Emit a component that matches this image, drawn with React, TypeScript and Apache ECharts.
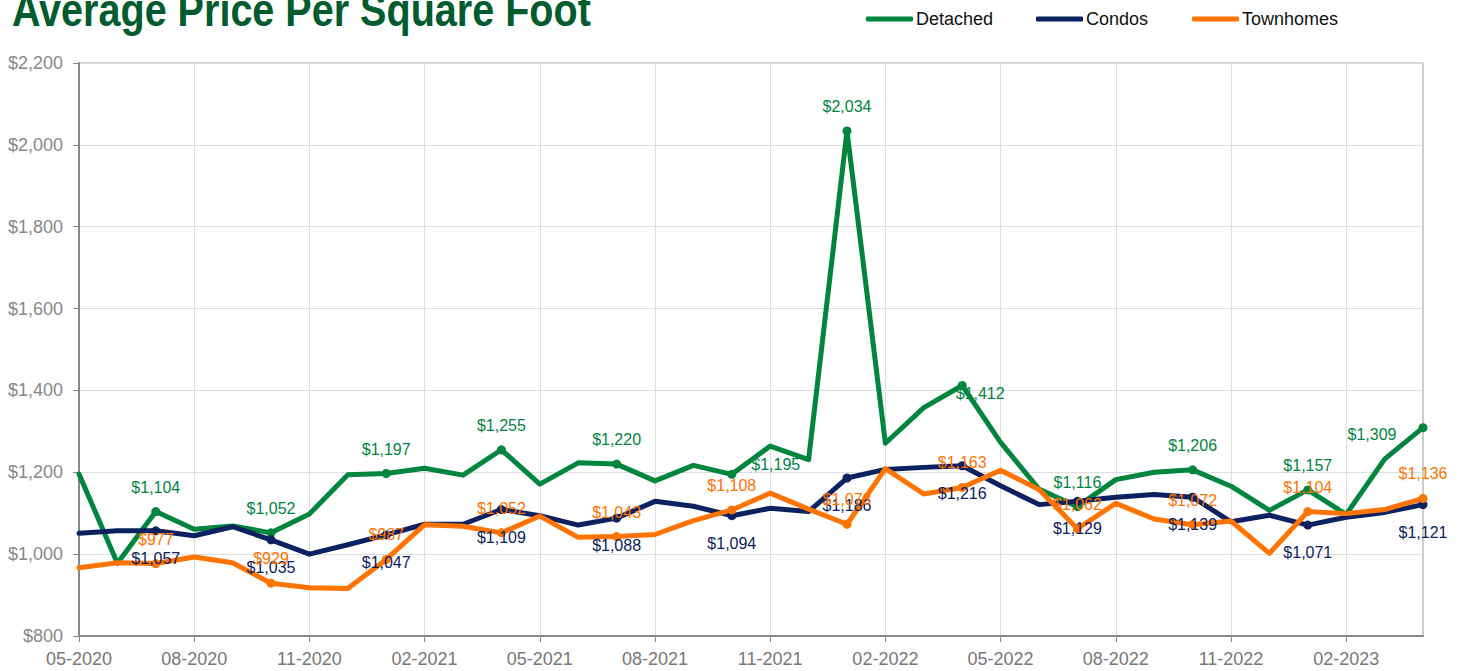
import React, { useEffect, useRef } from "react";
import * as echarts from "echarts";

const months = [
  "05-2020", "06-2020", "07-2020", "08-2020", "09-2020", "10-2020",
  "11-2020", "12-2020", "01-2021", "02-2021", "03-2021", "04-2021",
  "05-2021", "06-2021", "07-2021", "08-2021", "09-2021", "10-2021",
  "11-2021", "12-2021", "01-2022", "02-2022", "03-2022", "04-2022",
  "05-2022", "06-2022", "07-2022", "08-2022", "09-2022", "10-2022",
  "11-2022", "12-2022", "01-2023", "02-2023", "03-2023", "04-2023",
];

const detached = [
  1196, 978, 1104, 1061, 1069, 1052, 1098, 1194, 1197, 1210, 1193, 1255,
  1171, 1223, 1220, 1179, 1217, 1195, 1264, 1231, 2034, 1271, 1358, 1412,
  1273, 1159, 1116, 1182, 1200, 1206, 1166, 1107, 1157, 1097, 1232, 1309,
];

const condos = [
  1051, 1057, 1057, 1045, 1067, 1035, 1000, 1023, 1047, 1073, 1073, 1109,
  1094, 1071, 1088, 1129, 1117, 1094, 1112, 1104, 1186, 1207, 1212, 1216,
  1167, 1121, 1129, 1139, 1146, 1139, 1079, 1095, 1071, 1090, 1102, 1121,
];

const townhomes = [
  967, 979, 977, 993, 979, 929, 918, 916, 987, 1072, 1068, 1052,
  1093, 1041, 1043, 1048, 1082, 1108, 1149, 1110, 1073, 1209, 1147, 1163,
  1205, 1158, 1062, 1124, 1086, 1072, 1081, 1002, 1104, 1099, 1109, 1136,
];

const seriesNames = ["Detached", "Condos", "Townhomes"];
const colors = ["#00853F", "#0B2160", "#FF7300"];
const titleText = "Average Price Per Square Foot";

const fmt = (v: number) => "$" + v.toLocaleString("en-US");

function buildData(values: number[], color: string, pos: string, dist: number, overrides: Record<number, any>) {
  return values.map((v, i) => {
    if (i % 3 !== 2) return { value: v, symbol: "none" };
    return {
      value: v,
      symbol: "circle",
      symbolSize: 9,
      label: {
        show: true,
        position: pos,
        distance: dist,
        color,
        fontSize: 16,
        fontFamily: "Liberation Sans, Arial, sans-serif",
        formatter: () => fmt(v),
        ...(overrides[i] || {}),
      },
    };
  });
}

export default function App() {
  const ref = useRef<HTMLDivElement>(null);
  useEffect(() => {
    if (!ref.current) return;
    const chart = echarts.init(ref.current, undefined, { renderer: "svg" });
    const legendBase = {
      top: 5,
      icon: "roundRect",
      itemWidth: 47,
      itemHeight: 5,
      itemGap: 0,
      textStyle: { fontSize: 18, color: "#111", fontFamily: "Liberation Sans, Arial, sans-serif", padding: [0, 0, 0, -2] },
    };
    chart.setOption({
      animation: false,
      backgroundColor: "#fff",
      graphic: [
        {
          type: "text",
          x: 12,
          y: 10,
          scaleX: 0.86,
          style: {
            text: titleText,
            x: 0,
            y: 0,
            fontSize: 46,
            fontWeight: "bold",
            fontFamily: "Liberation Sans, Arial, sans-serif",
            fill: "#005C2E",
            verticalAlign: "middle",
            align: "left",
          },
        },
      ],
      legend: [
        { ...legendBase, left: 861, data: [seriesNames[0]] },
        { ...legendBase, left: 1031, data: [seriesNames[1]] },
        { ...legendBase, left: 1187, data: [seriesNames[2]] },
      ],
      grid: {
        left: 79,
        right: 43,
        top: 63,
        bottom: 35,
        show: true,
        borderColor: "#999",
        borderWidth: 1,
        backgroundColor: "transparent",
      },
      xAxis: {
        type: "category",
        data: months,
        boundaryGap: false,
        axisLine: { lineStyle: { color: "#888", width: 2 } },
        axisTick: { show: true, interval: 2, length: 6, lineStyle: { color: "#888" } },
        axisLabel: {
          interval: 2,
          margin: 14,
          fontSize: 18,
          color: "#777",
          fontFamily: "Liberation Sans, Arial, sans-serif",
        },
        splitLine: { show: true, interval: 2, lineStyle: { color: "#ddd", width: 1 } },
      },
      yAxis: {
        type: "value",
        min: 800,
        max: 2200,
        interval: 200,
        axisLine: { show: true, lineStyle: { color: "#888", width: 2 } },
        axisTick: { show: true, length: 6, lineStyle: { color: "#888" } },
        axisLabel: {
          margin: 16,
          fontSize: 18,
          color: "#888",
          fontFamily: "Liberation Sans, Arial, sans-serif",
          formatter: (v: number) => fmt(v),
        },
        splitLine: { show: true, lineStyle: { color: "#ddd", width: 1 } },
      },
      series: [
        {
          name: seriesNames[0],
          type: "line",
          color: colors[0],
          lineStyle: { width: 5, cap: "round", join: "round" },
          itemStyle: { color: colors[0] },
          data: buildData(detached, colors[0], "top", 12, {
            17: { position: "right", distance: 5, offset: [10, -10] },
            23: { position: "right", distance: 5, offset: [-16, 8] },
            35: { position: "left", distance: 5, offset: [-17, 7] },
          }),
        },
        {
          name: seriesNames[1],
          type: "line",
          color: colors[1],
          lineStyle: { width: 5, cap: "round", join: "round" },
          itemStyle: { color: colors[1] },
          data: buildData(condos, colors[1], "bottom", 15, {}),
        },
        {
          name: seriesNames[2],
          type: "line",
          color: colors[2],
          lineStyle: { width: 5, cap: "round", join: "round" },
          itemStyle: { color: colors[2] },
          data: buildData(townhomes, colors[2], "top", 12, {}),
        },
      ],
    });
    return () => chart.dispose();
  }, []);
  return (
    <div
      ref={ref}
      style={{ position: "fixed", left: 0, top: 0, width: 1466, height: 671, background: "#fff" }}
    />
  );
}
